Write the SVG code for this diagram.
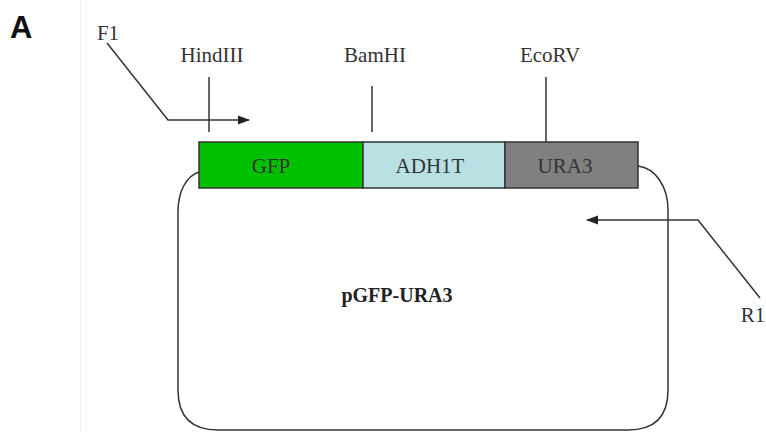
<svg xmlns="http://www.w3.org/2000/svg" width="766" height="432" viewBox="0 0 766 432">
<defs>
<style>
.ln{stroke:#333;stroke-width:1.5;fill:none}
.t{font-family:"Liberation Serif","Times New Roman",serif;font-size:21px;fill:#333;text-anchor:middle}
.seg{stroke:#333;stroke-width:1.5}
</style>
<marker id="ah" markerWidth="12" markerHeight="10" refX="11" refY="5" orient="auto" markerUnits="userSpaceOnUse">
<path d="M0,0.5 L12,5 L0,9.5 Z" fill="#222"/>
</marker>
</defs>
<rect width="766" height="432" fill="#fff"/>
<line x1="80.5" y1="0" x2="80.5" y2="432" stroke="#f0f0f0" stroke-width="1"/>
<text x="10" y="38" font-family="Liberation Sans,Arial,sans-serif" font-weight="bold" font-size="31" fill="#111">A</text>

<g id="plasmid">
<path class="ln" d="M199,172 C186,176 178,192 178,212 V390 Q178,430 218,430 H628 Q668,430 668,390 V210 C668,186 655,168 638,166"/>
<text x="397" y="302" font-family="Liberation Serif,'Times New Roman',serif" font-weight="bold" font-size="20" fill="#222" text-anchor="middle">pGFP-URA3</text>
</g>

<g id="GFP">
<rect class="seg" x="199" y="142" width="164" height="46" fill="#00c000"/>
<text class="t" x="271" y="173">GFP</text>
</g>
<g id="ADH1T">
<rect class="seg" x="363" y="142" width="142" height="46" fill="#b9e1e4"/>
<text class="t" x="430" y="173">ADH1T</text>
</g>
<g id="URA3">
<rect class="seg" x="505" y="142" width="133" height="46" fill="#808080"/>
<text class="t" x="565" y="173">URA3</text>
</g>

<g id="HindIII">
<text class="t" x="212" y="62">HindIII</text>
</g>
<g id="BamHI">
<text class="t" x="375" y="62">BamHI</text>
</g>
<g id="EcoRV">
<text class="t" x="550" y="62">EcoRV</text>
</g>
<g id="F1">
<text class="t" x="108" y="40">F1</text>
</g>
<g id="R1">
<text class="t" x="753" y="322">R1</text>
</g>

<g id="connectors">
<line class="ln" x1="209" y1="77" x2="209" y2="132"/>
<line class="ln" x1="372" y1="86" x2="372" y2="132"/>
<line class="ln" x1="546" y1="77" x2="546" y2="142"/>
<polyline class="ln" points="107,43 168,120 249,120" marker-end="url(#ah)"/>
<polyline class="ln" points="760,298 698,220 587,220" marker-end="url(#ah)"/>
</g>
</svg>
